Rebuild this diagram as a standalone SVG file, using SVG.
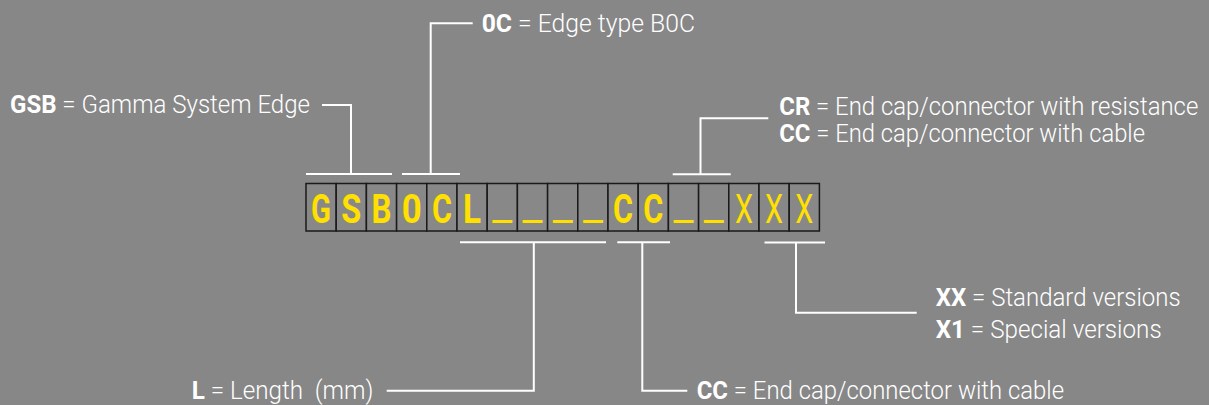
<svg xmlns="http://www.w3.org/2000/svg" width="1209" height="405" viewBox="0 0 1209 405">
<style>
.bg{fill:#878787}
.box{fill:#888888;stroke:#1a1a1a;stroke-width:1.5}
.ch{font-family:Roboto,"Liberation Sans",sans-serif;font-size:41px;fill:#FFE000;text-anchor:middle}
.b{font-weight:700}
.r{font-weight:400}
.lbl{font-family:Roboto,"Liberation Sans",sans-serif;font-size:26.5px;fill:#ffffff;font-weight:300}
.lbl .k{font-weight:700}
.ln{fill:none;stroke:#ffffff;stroke-width:2}
</style>
<rect class="bg" x="0" y="0" width="1209" height="405"/>
<g id="code">
<rect class="box" x="306" y="183.5" width="30.2" height="47.5"/>
<rect class="box" x="336.2" y="183.5" width="30.2" height="47.5"/>
<rect class="box" x="366.4" y="183.5" width="30.2" height="47.5"/>
<rect class="box" x="396.6" y="183.5" width="30.2" height="47.5"/>
<rect class="box" x="426.8" y="183.5" width="30.2" height="47.5"/>
<rect class="box" x="457" y="183.5" width="30.2" height="47.5"/>
<rect class="box" x="487.2" y="183.5" width="30.2" height="47.5"/>
<rect class="box" x="517.4" y="183.5" width="30.2" height="47.5"/>
<rect class="box" x="547.6" y="183.5" width="30.2" height="47.5"/>
<rect class="box" x="577.8" y="183.5" width="30.2" height="47.5"/>
<rect class="box" x="608" y="183.5" width="30.2" height="47.5"/>
<rect class="box" x="638.2" y="183.5" width="30.2" height="47.5"/>
<rect class="box" x="668.4" y="183.5" width="30.2" height="47.5"/>
<rect class="box" x="698.6" y="183.5" width="30.2" height="47.5"/>
<rect class="box" x="728.8" y="183.5" width="30.2" height="47.5"/>
<rect class="box" x="759" y="183.5" width="30.2" height="47.5"/>
<rect class="box" x="789.2" y="183.5" width="30.2" height="47.5"/>
<text class="ch b" x="321.1" y="222.5" textLength="20" lengthAdjust="spacingAndGlyphs">G</text>
<text class="ch b" x="351.3" y="222.5" textLength="20" lengthAdjust="spacingAndGlyphs">S</text>
<text class="ch b" x="381.5" y="222.5" textLength="20" lengthAdjust="spacingAndGlyphs">B</text>
<text class="ch b" x="411.7" y="222.5" textLength="20" lengthAdjust="spacingAndGlyphs">0</text>
<text class="ch b" x="441.9" y="222.5" textLength="20" lengthAdjust="spacingAndGlyphs">C</text>
<text class="ch b" x="472.1" y="222.5" textLength="18" lengthAdjust="spacingAndGlyphs">L</text>
<text class="ch r" x="502.3" y="220" textLength="20" lengthAdjust="spacingAndGlyphs">_</text>
<text class="ch r" x="532.5" y="220" textLength="20" lengthAdjust="spacingAndGlyphs">_</text>
<text class="ch r" x="562.7" y="220" textLength="20" lengthAdjust="spacingAndGlyphs">_</text>
<text class="ch r" x="592.9" y="220" textLength="20" lengthAdjust="spacingAndGlyphs">_</text>
<text class="ch b" x="623.1" y="222.5" textLength="20" lengthAdjust="spacingAndGlyphs">C</text>
<text class="ch b" x="653.3" y="222.5" textLength="20" lengthAdjust="spacingAndGlyphs">C</text>
<text class="ch r" x="683.5" y="220" textLength="20" lengthAdjust="spacingAndGlyphs">_</text>
<text class="ch r" x="713.7" y="220" textLength="20" lengthAdjust="spacingAndGlyphs">_</text>
<text class="ch r" x="743.9" y="222.5" textLength="18" lengthAdjust="spacingAndGlyphs">X</text>
<text class="ch r" x="774.1" y="222.5" textLength="18" lengthAdjust="spacingAndGlyphs">X</text>
<text class="ch r" x="804.3" y="222.5" textLength="18" lengthAdjust="spacingAndGlyphs">X</text>
</g>
<g id="label-gsb">
<text class="lbl" x="10" y="113" textLength="300" lengthAdjust="spacingAndGlyphs"><tspan class="k">GSB</tspan> = Gamma System Edge</text>
</g>
<g id="label-oc">
<text class="lbl" x="481.7" y="32" textLength="213.3" lengthAdjust="spacingAndGlyphs"><tspan class="k">0C</tspan> = Edge type B0C</text>
</g>
<g id="label-cr">
<text class="lbl" x="779.3" y="115" textLength="419" lengthAdjust="spacingAndGlyphs"><tspan class="k">CR</tspan> = End cap/connector with resistance</text>
<text class="lbl" x="779.3" y="142.3" textLength="365.7" lengthAdjust="spacingAndGlyphs"><tspan class="k">CC</tspan> = End cap/connector with cable</text>
</g>
<g id="label-xx">
<text class="lbl" x="935.7" y="305.7" textLength="245" lengthAdjust="spacingAndGlyphs"><tspan class="k">XX</tspan> = Standard versions</text>
<text class="lbl" x="935.7" y="338.3" textLength="226" lengthAdjust="spacingAndGlyphs"><tspan class="k">X1</tspan> = Special versions</text>
</g>
<g id="label-l">
<text class="lbl" x="191.7" y="398.7" textLength="181.6" lengthAdjust="spacingAndGlyphs" xml:space="preserve"><tspan class="k">L</tspan> = Length  (mm)</text>
</g>
<g id="label-cc">
<text class="lbl" x="696.7" y="398.7" textLength="367.3" lengthAdjust="spacingAndGlyphs"><tspan class="k">CC</tspan> = End cap/connector with cable</text>
</g>
<g id="connectors">
<polyline class="ln" points="322,105 351,105 351,174"/>
<line class="ln" x1="306" y1="174" x2="392" y2="174"/>
<polyline class="ln" points="472.7,23.3 430.7,23.3 430.7,174"/>
<line class="ln" x1="402" y1="174" x2="460" y2="174"/>
<polyline class="ln" points="768.3,118.3 700.5,118.3 700.5,174.3"/>
<line class="ln" x1="672.7" y1="174.3" x2="730.7" y2="174.3"/>
<line class="ln" x1="460" y1="242.3" x2="606" y2="242.3"/>
<polyline class="ln" points="533.8,242.3 533.8,390.7 386.7,390.7"/>
<line class="ln" x1="617.3" y1="242.3" x2="670" y2="242.3"/>
<polyline class="ln" points="642.3,242.3 642.3,390.7 687.3,390.7"/>
<line class="ln" x1="764.5" y1="242.5" x2="825" y2="242.5"/>
<polyline class="ln" points="796,242.5 796,312.7 916.7,312.7"/>
</g>
</svg>
